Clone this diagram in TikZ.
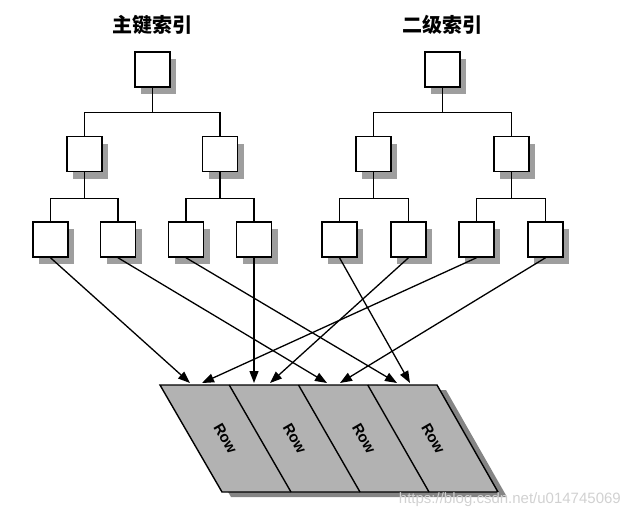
\documentclass[tikz,border=0pt]{standalone}
\usepackage{fontspec}
\newfontfamily\cjk{Noto Sans CJK SC}
\newfontfamily\lsans{Liberation Sans}
\usetikzlibrary{arrows.meta,calc,shadows}
\begin{document}
\begin{tikzpicture}[x=1pt,y=-1pt,
  box/.style={draw,line width=1.5pt,fill=white,minimum size=35pt,inner sep=0pt,
     drop shadow={shadow xshift=6pt,shadow yshift=-7pt,fill=black!38,opacity=1}},
  link/.style={line width=1.4pt},
  arr/.style={line width=1.3pt,-{Triangle[length=12pt,width=9pt]}},
  title/.style={font=\cjk\bfseries\fontsize{20}{20}\selectfont},
  rowlbl/.style={font=\lsans\bfseries\fontsize{15}{15}\selectfont,rotate=-60,inner sep=0pt}]
\useasboundingbox (0,0) rectangle (629,517);

% titles
\node[title] (ttl1) at (152,25) {主键索引};
\node[title] (ttl2) at (442,25) {二级索引};

% left tree (primary index)
\node[box] (a1) at (152.5,69.5) {};
\node[box] (a2) at (84.5,154) {};
\node[box] (a3) at (220,154) {};
\node[box] (b1) at (50.5,239.5) {};
\node[box] (b2) at (118,239.5) {};
\node[box] (b3) at (186,239.5) {};
\node[box] (b4) at (254,239.5) {};

% right tree (secondary index)
\node[box] (c1) at (442.5,69.5) {};
\node[box] (c2) at (373.5,154) {};
\node[box] (c3) at (511.5,154) {};
\node[box] (b5) at (339.5,239.5) {};
\node[box] (b6) at (408.5,239.5) {};
\node[box] (b7) at (476.5,239.5) {};
\node[box] (b8) at (545.5,239.5) {};

% tree links
\draw[link] (a1.south) -- ++(0,25);
\draw[link] (a2.north) |- ($(a1.south)+(0,25)$) -| (a3.north);
\draw[link] (a2.south) -- ++(0,26);
\draw[link] (b1.north) |- ($(a2.south)+(0,26)$) -| (b2.north);
\draw[link] (a3.south) -- ++(0,26);
\draw[link] (b3.north) |- ($(a3.south)+(0,26)$) -| (b4.north);

\draw[link] (c1.south) -- ++(0,25);
\draw[link] (c2.north) |- ($(c1.south)+(0,25)$) -| (c3.north);
\draw[link] (c2.south) -- ++(0,26);
\draw[link] (b5.north) |- ($(c2.south)+(0,26)$) -| (b6.north);
\draw[link] (c3.south) -- ++(0,26);
\draw[link] (b7.north) |- ($(c3.south)+(0,26)$) -| (b8.north);

% rows (parallelogram)
\coordinate (p1) at (160,385);
\coordinate (p2) at (437,385);
\coordinate (p3) at (498,492);
\coordinate (p4) at (222,492);
\fill[black!48] ([shift={(9,5)}]p1) -- ([shift={(9,5)}]p2) -- ([shift={(9,5)}]p3) -- ([shift={(9,5)}]p4) -- cycle;
\filldraw[fill=black!30,line width=1.4pt] (p1) -- (p2) -- (p3) -- (p4) -- cycle;
\foreach \k in {1,2,3} {
  \draw[line width=1.4pt] ($(p1)!\k/4!(p2)$) -- ($(p4)!\k/4!(p3)$);
}
\foreach \k in {0,1,2,3} {
  \node[rowlbl] (row\k) at ({225.5+69.2*\k},438.5) {Row};
}

% arrow targets
\coordinate (e1) at (190,383);
\coordinate (e2) at (202,383);
\coordinate (e3) at (254,383);
\coordinate (e4) at (270,383);
\coordinate (e5) at (327,383);
\coordinate (e6) at (340,383);
\coordinate (e7) at (397,383);
\coordinate (e8) at (410,383);

\draw[arr] (b1.south) -- (e1);
\draw[arr] (b2.south) -- (e5);
\draw[arr] (b3.south) -- (e7);
\draw[arr] (b4.south) -- (e3);
\draw[arr] (b5.south) -- (e8);
\draw[arr] (b6.south) -- (e4);
\draw[arr] (b7.south) -- (e2);
\draw[arr] (b8.south) -- (e6);

% watermark
\node[anchor=base east,text=black!18,font=\lsans\fontsize{15}{15}\selectfont,inner sep=0pt] (wm) at (621,503) {https://blog.csdn.net/u014745069};
\end{tikzpicture}
\end{document}
